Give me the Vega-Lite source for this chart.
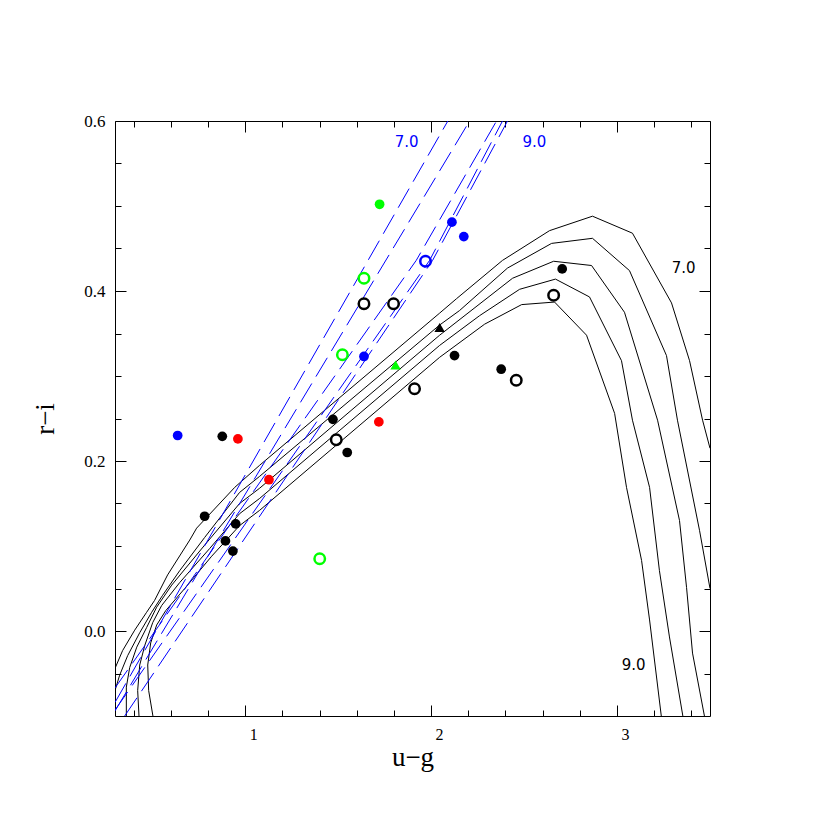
{
  "$schema": "https://vega.github.io/schema/vega-lite/v6.json",
  "width": 595,
  "height": 595,
  "autosize": "none",
  "padding": {"left": 115, "top": 121, "right": 120, "bottom": 114},
  "background": "white",
  "config": {
    "view": {"stroke": "black", "strokeWidth": 1},
    "axis": {"grid": false, "domain": false, "tickColor": "black", "labelColor": "black", "titleColor": "black", "tickWidth": 1}
  },
  "datasets": {
    "curves": [
      {"logg": "7.0", "i": 0, "ug": 0.300, "ri": -0.044},
      {"logg": "7.0", "i": 1, "ug": 0.341, "ri": -0.023},
      {"logg": "7.0", "i": 2, "ug": 0.406, "ri": 0.001},
      {"logg": "7.0", "i": 3, "ug": 0.470, "ri": 0.022},
      {"logg": "7.0", "i": 4, "ug": 0.513, "ri": 0.036},
      {"logg": "7.0", "i": 5, "ug": 0.583, "ri": 0.066},
      {"logg": "7.0", "i": 6, "ug": 0.702, "ri": 0.107},
      {"logg": "7.0", "i": 7, "ug": 0.739, "ri": 0.121},
      {"logg": "7.0", "i": 8, "ug": 0.944, "ri": 0.169},
      {"logg": "7.0", "i": 9, "ug": 1.078, "ri": 0.195},
      {"logg": "7.0", "i": 10, "ug": 2.046, "ri": 0.374},
      {"logg": "7.0", "i": 11, "ug": 2.137, "ri": 0.391},
      {"logg": "7.0", "i": 12, "ug": 2.384, "ri": 0.436},
      {"logg": "7.0", "i": 13, "ug": 2.637, "ri": 0.471},
      {"logg": "7.0", "i": 14, "ug": 2.868, "ri": 0.488},
      {"logg": "7.0", "i": 15, "ug": 3.083, "ri": 0.468},
      {"logg": "7.0", "i": 16, "ug": 3.293, "ri": 0.386},
      {"logg": "7.0", "i": 17, "ug": 3.390, "ri": 0.318},
      {"logg": "7.0", "i": 18, "ug": 3.460, "ri": 0.248},
      {"logg": "7.0", "i": 19, "ug": 3.500, "ri": 0.215},

      {"logg": "7.5", "i": 0, "ug": 0.300, "ri": -0.070},
      {"logg": "7.5", "i": 1, "ug": 0.325, "ri": -0.052},
      {"logg": "7.5", "i": 2, "ug": 0.368, "ri": -0.029},
      {"logg": "7.5", "i": 3, "ug": 0.433, "ri": -0.002},
      {"logg": "7.5", "i": 4, "ug": 0.497, "ri": 0.022},
      {"logg": "7.5", "i": 5, "ug": 0.556, "ri": 0.042},
      {"logg": "7.5", "i": 6, "ug": 0.648, "ri": 0.071},
      {"logg": "7.5", "i": 7, "ug": 0.782, "ri": 0.110},
      {"logg": "7.5", "i": 8, "ug": 0.970, "ri": 0.163},
      {"logg": "7.5", "i": 9, "ug": 1.078, "ri": 0.182},
      {"logg": "7.5", "i": 10, "ug": 2.046, "ri": 0.360},
      {"logg": "7.5", "i": 11, "ug": 2.153, "ri": 0.377},
      {"logg": "7.5", "i": 12, "ug": 2.411, "ri": 0.427},
      {"logg": "7.5", "i": 13, "ug": 2.648, "ri": 0.456},
      {"logg": "7.5", "i": 14, "ug": 2.868, "ri": 0.462},
      {"logg": "7.5", "i": 15, "ug": 3.067, "ri": 0.424},
      {"logg": "7.5", "i": 16, "ug": 3.266, "ri": 0.324},
      {"logg": "7.5", "i": 17, "ug": 3.325, "ri": 0.248},
      {"logg": "7.5", "i": 18, "ug": 3.444, "ri": 0.118},
      {"logg": "7.5", "i": 19, "ug": 3.500, "ri": 0.050},

      {"logg": "8.0", "i": 0, "ug": 0.361, "ri": -0.100},
      {"logg": "8.0", "i": 1, "ug": 0.361, "ri": -0.066},
      {"logg": "8.0", "i": 2, "ug": 0.379, "ri": -0.043},
      {"logg": "8.0", "i": 3, "ug": 0.417, "ri": -0.019},
      {"logg": "8.0", "i": 4, "ug": 0.470, "ri": 0.004},
      {"logg": "8.0", "i": 5, "ug": 0.524, "ri": 0.028},
      {"logg": "8.0", "i": 6, "ug": 0.605, "ri": 0.054},
      {"logg": "8.0", "i": 7, "ug": 0.782, "ri": 0.101},
      {"logg": "8.0", "i": 8, "ug": 0.970, "ri": 0.150},
      {"logg": "8.0", "i": 9, "ug": 1.078, "ri": 0.168},
      {"logg": "8.0", "i": 10, "ug": 2.046, "ri": 0.348},
      {"logg": "8.0", "i": 11, "ug": 2.438, "ri": 0.415},
      {"logg": "8.0", "i": 12, "ug": 2.659, "ri": 0.435},
      {"logg": "8.0", "i": 13, "ug": 2.863, "ri": 0.430},
      {"logg": "8.0", "i": 14, "ug": 3.040, "ri": 0.375},
      {"logg": "8.0", "i": 15, "ug": 3.218, "ri": 0.248},
      {"logg": "8.0", "i": 16, "ug": 3.336, "ri": 0.130},
      {"logg": "8.0", "i": 17, "ug": 3.374, "ri": 0.051},
      {"logg": "8.0", "i": 18, "ug": 3.406, "ri": -0.026},
      {"logg": "8.0", "i": 19, "ug": 3.470, "ri": -0.100},

      {"logg": "8.5", "i": 0, "ug": 0.429, "ri": -0.100},
      {"logg": "8.5", "i": 1, "ug": 0.422, "ri": -0.070},
      {"logg": "8.5", "i": 2, "ug": 0.433, "ri": -0.040},
      {"logg": "8.5", "i": 3, "ug": 0.460, "ri": -0.017},
      {"logg": "8.5", "i": 4, "ug": 0.503, "ri": 0.010},
      {"logg": "8.5", "i": 5, "ug": 0.551, "ri": 0.030},
      {"logg": "8.5", "i": 6, "ug": 0.648, "ri": 0.057},
      {"logg": "8.5", "i": 7, "ug": 0.809, "ri": 0.097},
      {"logg": "8.5", "i": 8, "ug": 0.970, "ri": 0.138},
      {"logg": "8.5", "i": 9, "ug": 1.078, "ri": 0.156},
      {"logg": "8.5", "i": 10, "ug": 2.046, "ri": 0.336},
      {"logg": "8.5", "i": 11, "ug": 2.261, "ri": 0.371},
      {"logg": "8.5", "i": 12, "ug": 2.476, "ri": 0.402},
      {"logg": "8.5", "i": 13, "ug": 2.669, "ri": 0.414},
      {"logg": "8.5", "i": 14, "ug": 2.852, "ri": 0.393},
      {"logg": "8.5", "i": 15, "ug": 3.024, "ri": 0.318},
      {"logg": "8.5", "i": 16, "ug": 3.083, "ri": 0.248},
      {"logg": "8.5", "i": 17, "ug": 3.175, "ri": 0.169},
      {"logg": "8.5", "i": 18, "ug": 3.228, "ri": 0.071},
      {"logg": "8.5", "i": 19, "ug": 3.282, "ri": -0.007},
      {"logg": "8.5", "i": 20, "ug": 3.354, "ri": -0.100},

      {"logg": "9.0", "i": 0, "ug": 0.504, "ri": -0.100},
      {"logg": "9.0", "i": 1, "ug": 0.481, "ri": -0.070},
      {"logg": "9.0", "i": 2, "ug": 0.476, "ri": -0.040},
      {"logg": "9.0", "i": 3, "ug": 0.492, "ri": -0.014},
      {"logg": "9.0", "i": 4, "ug": 0.524, "ri": 0.007},
      {"logg": "9.0", "i": 5, "ug": 0.573, "ri": 0.024},
      {"logg": "9.0", "i": 6, "ug": 0.675, "ri": 0.050},
      {"logg": "9.0", "i": 7, "ug": 0.820, "ri": 0.088},
      {"logg": "9.0", "i": 8, "ug": 0.970, "ri": 0.124},
      {"logg": "9.0", "i": 9, "ug": 1.078, "ri": 0.142},
      {"logg": "9.0", "i": 10, "ug": 2.046, "ri": 0.322},
      {"logg": "9.0", "i": 11, "ug": 2.288, "ri": 0.361},
      {"logg": "9.0", "i": 12, "ug": 2.487, "ri": 0.384},
      {"logg": "9.0", "i": 13, "ug": 2.664, "ri": 0.387},
      {"logg": "9.0", "i": 14, "ug": 2.836, "ri": 0.348},
      {"logg": "9.0", "i": 15, "ug": 2.987, "ri": 0.256},
      {"logg": "9.0", "i": 16, "ug": 3.051, "ri": 0.169},
      {"logg": "9.0", "i": 17, "ug": 3.132, "ri": 0.083},
      {"logg": "9.0", "i": 18, "ug": 3.175, "ri": 0.013},
      {"logg": "9.0", "i": 19, "ug": 3.238, "ri": -0.100}
    ],
    "tracks": [
      {"logg": "7.0", "i": 0, "ug": 0.300, "ri": -0.084},
      {"logg": "7.0", "i": 1, "ug": 2.090, "ri": 0.600},
      {"logg": "7.5", "i": 0, "ug": 0.300, "ri": -0.094},
      {"logg": "7.5", "i": 1, "ug": 2.207, "ri": 0.600},
      {"logg": "8.0", "i": 0, "ug": 0.300, "ri": -0.067},
      {"logg": "8.0", "i": 1, "ug": 1.920, "ri": 0.436},
      {"logg": "8.0", "i": 2, "ug": 2.352, "ri": 0.600},
      {"logg": "8.5", "i": 0, "ug": 0.300, "ri": -0.093},
      {"logg": "8.5", "i": 1, "ug": 1.992, "ri": 0.436},
      {"logg": "8.5", "i": 2, "ug": 2.384, "ri": 0.600},
      {"logg": "9.0", "i": 0, "ug": 0.352, "ri": -0.100},
      {"logg": "9.0", "i": 1, "ug": 2.008, "ri": 0.436},
      {"logg": "9.0", "i": 2, "ug": 2.411, "ri": 0.600}
    ],
    "filled": [
      {"set": "A", "ug": 2.705, "ri": 0.426},
      {"set": "A", "ug": 2.126, "ri": 0.324},
      {"set": "A", "ug": 2.377, "ri": 0.308},
      {"set": "A", "ug": 1.472, "ri": 0.249},
      {"set": "A", "ug": 1.549, "ri": 0.210},
      {"set": "A", "ug": 0.877, "ri": 0.229},
      {"set": "A", "ug": 0.782, "ri": 0.135},
      {"set": "A", "ug": 0.949, "ri": 0.126},
      {"set": "A", "ug": 0.894, "ri": 0.106},
      {"set": "A", "ug": 0.934, "ri": 0.094},
      {"set": "B", "ug": 0.637, "ri": 0.230},
      {"set": "B", "ug": 1.639, "ri": 0.323},
      {"set": "B", "ug": 2.112, "ri": 0.481},
      {"set": "B", "ug": 2.176, "ri": 0.464},
      {"set": "C", "ug": 1.723, "ri": 0.502},
      {"set": "D", "ug": 0.961, "ri": 0.226},
      {"set": "D", "ug": 1.128, "ri": 0.178},
      {"set": "D", "ug": 1.719, "ri": 0.246}
    ],
    "open": [
      {"set": "A", "ug": 1.639, "ri": 0.385},
      {"set": "A", "ug": 1.798, "ri": 0.385},
      {"set": "A", "ug": 1.911, "ri": 0.285},
      {"set": "A", "ug": 1.490, "ri": 0.225},
      {"set": "A", "ug": 2.659, "ri": 0.395},
      {"set": "A", "ug": 2.458, "ri": 0.295},
      {"set": "B", "ug": 1.970, "ri": 0.435},
      {"set": "C", "ug": 1.639, "ri": 0.415},
      {"set": "C", "ug": 1.523, "ri": 0.325},
      {"set": "C", "ug": 1.401, "ri": 0.085}
    ],
    "tri": [
      {"set": "A", "ug": 2.046, "ri": 0.357},
      {"set": "C", "ug": 1.809, "ri": 0.313}
    ],
    "labels": [
      {"set": "B", "ug": 1.868, "ri": 0.575, "text": "7.0"},
      {"set": "B", "ug": 2.556, "ri": 0.575, "text": "9.0"},
      {"set": "A", "ug": 3.358, "ri": 0.427, "text": "7.0"},
      {"set": "A", "ug": 3.089, "ri": -0.040, "text": "9.0"}
    ]
  },
  "layer": [
    {
      "data": {"name": "curves"},
      "mark": {"type": "line", "color": "black", "strokeWidth": 1, "clip": true},
      "encoding": {
        "x": {"field": "ug", "type": "quantitative", "scale": {"domain": [0.3, 3.5], "nice": false, "zero": false},
          "axis": {"orient": "bottom", "values": [1, 2, 3], "format": "d", "ticks": false, "labelPadding": 10, "labelOffset": 8, "labelFont": "Liberation Serif", "labelFontSize": 16,
            "title": "u−g", "titleFont": "Liberation Serif", "titleFontSize": 27, "titleFontWeight": "normal", "titleY": 49, "titleBaseline": "alphabetic"}},
        "y": {"field": "ri", "type": "quantitative", "scale": {"domain": [-0.1, 0.6], "nice": false, "zero": false},
          "axis": {"orient": "left", "values": [0, 0.2, 0.4, 0.6], "format": ".1f", "ticks": false, "labelPadding": 10, "labelFont": "Liberation Serif", "labelFontSize": 17,
            "title": "r−i", "titleFont": "Liberation Serif", "titleFontSize": 27, "titleFontWeight": "normal", "titleX": -62, "titleBaseline": "alphabetic"}},
        "detail": {"field": "logg"},
        "order": {"field": "i", "type": "quantitative"}
      }
    },
    {
      "data": {"name": "tracks"},
      "mark": {"type": "line", "color": "#0000ff", "strokeWidth": 1, "strokeDash": [22, 8], "clip": true},
      "encoding": {
        "x": {"field": "ug", "type": "quantitative", "scale": {"domain": [0.3, 3.5], "nice": false, "zero": false},
          "axis": {"orient": "bottom", "values": [1, 2, 3], "labels": false, "tickSize": -11, "title": null}},
        "y": {"field": "ri", "type": "quantitative", "scale": {"domain": [-0.1, 0.6], "nice": false, "zero": false},
          "axis": {"orient": "left", "values": [0, 0.2, 0.4, 0.6], "labels": false, "tickSize": -11, "title": null}},
        "detail": {"field": "logg"},
        "order": {"field": "i", "type": "quantitative"}
      }
    },
    {
      "data": {"name": "filled"},
      "mark": {"type": "circle", "size": 95, "opacity": 1},
      "encoding": {
        "x": {"field": "ug", "type": "quantitative", "scale": {"domain": [0.3, 3.5], "nice": false, "zero": false},
          "axis": {"orient": "bottom", "values": [0.4, 0.6, 0.8, 1.2, 1.4, 1.6, 1.8, 2.2, 2.4, 2.6, 2.8, 3.2, 3.4], "labels": false, "tickSize": -6, "title": null}},
        "y": {"field": "ri", "type": "quantitative", "scale": {"domain": [-0.1, 0.6], "nice": false, "zero": false},
          "axis": {"orient": "left", "values": [-0.05, 0.05, 0.1, 0.15, 0.25, 0.3, 0.35, 0.45, 0.5, 0.55], "labels": false, "tickSize": -6, "title": null}},
        "color": {"field": "set", "type": "nominal", "scale": {"domain": ["A", "B", "C", "D"], "range": ["#000000", "#0000ff", "#00ff00", "#ff0000"]}, "legend": null}
      }
    },
    {
      "data": {"name": "open"},
      "mark": {"type": "point", "shape": "circle", "filled": false, "size": 110, "strokeWidth": 2.5, "opacity": 1},
      "encoding": {
        "x": {"field": "ug", "type": "quantitative", "scale": {"domain": [0.3, 3.5], "nice": false, "zero": false},
          "axis": {"orient": "top", "values": [1, 2, 3], "labels": false, "tickSize": -11, "title": null}},
        "y": {"field": "ri", "type": "quantitative", "scale": {"domain": [-0.1, 0.6], "nice": false, "zero": false},
          "axis": {"orient": "right", "values": [0, 0.2, 0.4, 0.6], "labels": false, "tickSize": -11, "title": null}},
        "color": {"field": "set", "type": "nominal", "scale": {"domain": ["A", "B", "C", "D"], "range": ["#000000", "#0000ff", "#00ff00", "#ff0000"]}, "legend": null}
      }
    },
    {
      "data": {"name": "tri"},
      "mark": {"type": "point", "shape": "triangle-up", "filled": true, "size": 110, "opacity": 1},
      "encoding": {
        "x": {"field": "ug", "type": "quantitative", "scale": {"domain": [0.3, 3.5], "nice": false, "zero": false},
          "axis": {"orient": "top", "values": [0.4, 0.6, 0.8, 1.2, 1.4, 1.6, 1.8, 2.2, 2.4, 2.6, 2.8, 3.2, 3.4], "labels": false, "tickSize": -6, "title": null}},
        "y": {"field": "ri", "type": "quantitative", "scale": {"domain": [-0.1, 0.6], "nice": false, "zero": false},
          "axis": {"orient": "right", "values": [-0.05, 0.05, 0.1, 0.15, 0.25, 0.3, 0.35, 0.45, 0.5, 0.55], "labels": false, "tickSize": -6, "title": null}},
        "color": {"field": "set", "type": "nominal", "scale": {"domain": ["A", "B", "C", "D"], "range": ["#000000", "#0000ff", "#00ff00", "#ff0000"]}, "legend": null}
      }
    },
    {
      "data": {"name": "labels"},
      "mark": {"type": "text", "font": "DejaVu Sans", "fontSize": 15, "align": "center", "baseline": "middle"},
      "encoding": {
        "x": {"field": "ug", "type": "quantitative", "scale": {"domain": [0.3, 3.5], "nice": false, "zero": false}, "axis": null},
        "y": {"field": "ri", "type": "quantitative", "scale": {"domain": [-0.1, 0.6], "nice": false, "zero": false}, "axis": null},
        "text": {"field": "text"},
        "color": {"field": "set", "type": "nominal", "scale": {"domain": ["A", "B", "C", "D"], "range": ["#000000", "#0000ff", "#00ff00", "#ff0000"]}, "legend": null}
      }
    }
  ],
  "resolve": {"axis": {"x": "independent", "y": "independent"}}
}
